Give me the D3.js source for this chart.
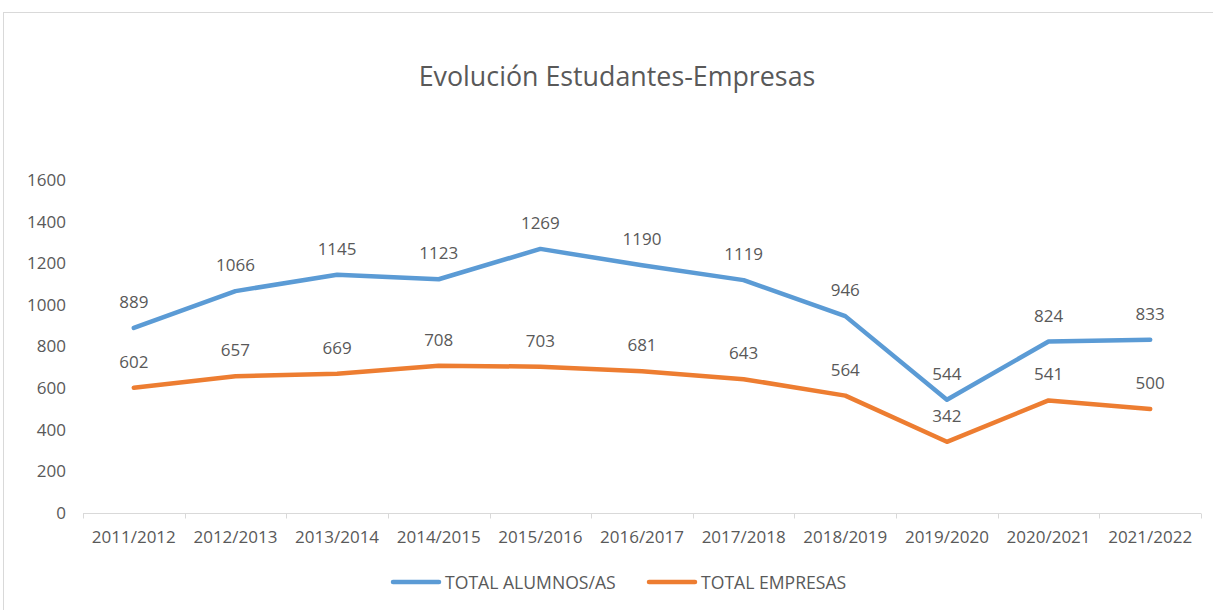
<!DOCTYPE html>
<meta charset="utf-8">
<head>
    <script type="text/javascript" src="https://cdn.jsdelivr.net/npm/d3@7"></script>
    <style>
        body { margin: 0; background: #fff; }
        text { font-family: "Open Sans", sans-serif; fill: #595959; }
    </style>
    <title>Evolución Estudantes-Empresas</title>
</head>
<body>
    <script>
        // data
        var years = ["2011/2012", "2012/2013", "2013/2014", "2014/2015", "2015/2016", "2016/2017",
                     "2017/2018", "2018/2019", "2019/2020", "2020/2021", "2021/2022"];
        var alumnos = [889, 1066, 1145, 1123, 1269, 1190, 1119, 946, 544, 824, 833];
        var empresas = [602, 657, 669, 708, 703, 681, 643, 564, 342, 541, 500];
        var yTicks = [0, 200, 400, 600, 800, 1000, 1200, 1400, 1600];
        var seriesNames = ["TOTAL ALUMNOS/AS", "TOTAL EMPRESAS"];
        var colors = ["#5B9BD5", "#ED7D31"];

        var W = 1213, H = 610;

        var svg = d3.select("body").append("svg")
            .attr("width", W)
            .attr("height", H);

        // chart area border
        svg.append("rect")
            .attr("x", 3.5).attr("y", 12.5)
            .attr("width", W + 10).attr("height", H + 10)
            .attr("fill", "none")
            .attr("stroke", "#d9d9d9");

        svg.append("text")
            .attr("x", 617).attr("y", 86)
            .attr("text-anchor", "middle")
            .style("font-size", "26.8px")
            .text("Evolución Estudantes-Empresas");

        var x = d3.scaleBand().domain(years).range([83, 1201]);
        var y = d3.scaleLinear().domain([0, 1600]).range([513, 180]);

        // y labels (no axis line, no grid)
        var yAxis = svg.append("g")
            .attr("transform", "translate(66,0)")
            .call(d3.axisLeft(y).tickValues(yTicks).tickFormat(d3.format("d")).tickSize(0).tickPadding(0));
        yAxis.select(".domain").remove();
        yAxis.selectAll("text")
            .style("font-size", "17px")
            .attr("fill", "#595959");

        // x axis
        var xAxis = svg.append("g")
            .attr("transform", "translate(0,513.5)")
            .call(d3.axisBottom(x).tickSize(0).tickPadding(20));
        xAxis.select(".domain").attr("stroke", "#d9d9d9").attr("d", "M83,0H1201");
        xAxis.selectAll("text")
            .style("font-size", "17px")
            .attr("fill", "#595959")
            .attr("dy", "0.55em");
        xAxis.selectAll(".tick line").remove();
        xAxis.selectAll(".sep")
            .data(d3.range(years.length + 1))
            .enter().append("line")
            .attr("class", "sep")
            .attr("x1", function(i) { return Math.round(83 + i * x.step()) + 0.5; })
            .attr("x2", function(i) { return Math.round(83 + i * x.step()) + 0.5; })
            .attr("y1", 0).attr("y2", 5)
            .attr("stroke", "#d9d9d9");

        var line = d3.line()
            .x(function(d, i) { return x(years[i]) + x.bandwidth() / 2; })
            .y(function(d) { return y(d); });

        [alumnos, empresas].forEach(function(series, s) {
            svg.append("path")
                .datum(series)
                .attr("d", line)
                .attr("fill", "none")
                .attr("stroke", colors[s])
                .attr("stroke-width", 4.5)
                .attr("stroke-linecap", "round")
                .attr("stroke-linejoin", "round");

            svg.selectAll(".lbl" + s)
                .data(series)
                .enter().append("text")
                .attr("class", "lbl" + s)
                .attr("x", function(d, i) { return x(years[i]) + x.bandwidth() / 2; })
                .attr("y", function(d) { return y(d) - 20; })
                .attr("text-anchor", "middle")
                .style("font-size", "17px")
                .attr("fill", "#404040")
                .text(function(d) { return d; });
        });

        // legend
        var legendX = [393, 649];
        var legend = svg.append("g");
        seriesNames.forEach(function(name, s) {
            legend.append("line")
                .attr("x1", legendX[s]).attr("x2", legendX[s] + 46)
                .attr("y1", 582).attr("y2", 582)
                .attr("stroke", colors[s])
                .attr("stroke-width", 4.5)
                .attr("stroke-linecap", "round");
            legend.append("text")
                .attr("x", legendX[s] + 52).attr("y", 588.5)
                .style("font-size", "17.6px")
                .text(name);
        });
    </script>
</body>
</html>
